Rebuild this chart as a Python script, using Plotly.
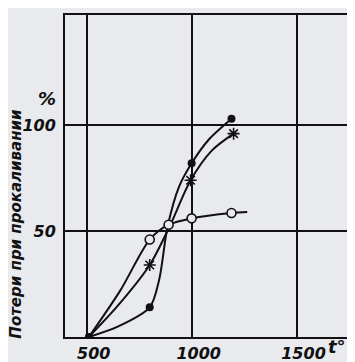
import plotly.graph_objects as go

# Temperatures (°C) and losses on ignition (%)
temp_filled = [510, 800, 1000, 1190]
loss_filled = [0, 14, 82, 103]
curve_filled_t = [510, 650, 800, 845, 885, 940, 1000, 1080, 1190]
curve_filled_v = [0, 5, 14, 27, 52, 71, 82, 93, 103]

temp_star = [800, 995, 1200]
loss_star = [34, 74, 96]
curve_star_t = [510, 650, 800, 894, 995, 1096, 1200]
curve_star_v = [0, 15, 34, 52, 74, 88, 96]

temp_open = [800, 890, 1000, 1190]
loss_open = [46, 53, 56, 58.5]
curve_open_t = [510, 660, 800, 890, 1000, 1190, 1265]
curve_open_v = [0, 22, 46, 53, 56, 58.5, 59]

x_ticks = [500, 1000, 1500]
x_tick_labels = ["500", "1000", "1500"]
y_ticks = [50, 100]
y_tick_labels = ["50", "100"]

ink = "#111111"
paper = "#e8eaee"
font_family = "DejaVu Sans"

fig = go.Figure()

for t, v in [(curve_filled_t, curve_filled_v), (curve_star_t, curve_star_v), (curve_open_t, curve_open_v)]:
    fig.add_trace(go.Scatter(x=t, y=v, mode="lines",
                             line=dict(color=ink, width=2, shape="spline", smoothing=0.8),
                             hoverinfo="skip", showlegend=False))

fig.add_trace(go.Scatter(x=temp_filled, y=loss_filled, mode="markers",
                         marker=dict(symbol="circle", size=8, color=ink),
                         showlegend=False))
fig.add_trace(go.Scatter(x=temp_star, y=loss_star, mode="markers",
                         marker=dict(symbol="asterisk-open", size=10, color=ink,
                                     line=dict(color=ink, width=1.6)),
                         showlegend=False))
fig.add_trace(go.Scatter(x=temp_open, y=loss_open, mode="markers",
                         marker=dict(symbol="circle", size=9, color=paper,
                                     line=dict(color=ink, width=1.6)),
                         showlegend=False))

tick_font = dict(family=font_family, size=16, style="italic", weight="bold", color=ink)

fig.update_layout(
    width=347, height=354,
    margin=dict(l=57, r=0, t=7, b=25),
    paper_bgcolor=paper, plot_bgcolor=paper,
    font=dict(family=font_family, color=ink),
    xaxis=dict(range=[396, 1779], tickvals=x_ticks, ticktext=x_tick_labels,
               showgrid=True, gridcolor=ink, gridwidth=2,
               showline=True, linecolor=ink, linewidth=2, mirror=True,
               zeroline=False, ticks="", ticklabelshift=7, ticklabelstandoff=1,
               tickfont=tick_font),
    yaxis=dict(range=[0, 152], tickvals=y_ticks, ticktext=y_tick_labels,
               showgrid=True, gridcolor=ink, gridwidth=2,
               showline=True, linecolor=ink, linewidth=2,
               zeroline=False, ticks="", ticklabelstandoff=4,
               tickfont=tick_font),
    annotations=[
        dict(text="%", xref="paper", yref="paper", x=-0.062, y=0.742,
             showarrow=False, xanchor="center", yanchor="middle",
             font=dict(family=font_family, size=18, style="italic", weight="bold", color=ink)),
        dict(text="t°", xref="x", yref="paper", x=1692, y=-0.031,
             showarrow=False, xanchor="center", yanchor="middle",
             font=dict(family=font_family, size=18, style="italic", weight="bold", color=ink)),
        dict(text="Потери при прокаливании", xref="paper", yref="paper",
             x=-0.17, y=0.351, textangle=-90, showarrow=False,
             xanchor="center", yanchor="middle",
             font=dict(family=font_family, size=15, style="italic", weight="bold", color=ink)),
    ],
)

fig.write_html("out.html")
